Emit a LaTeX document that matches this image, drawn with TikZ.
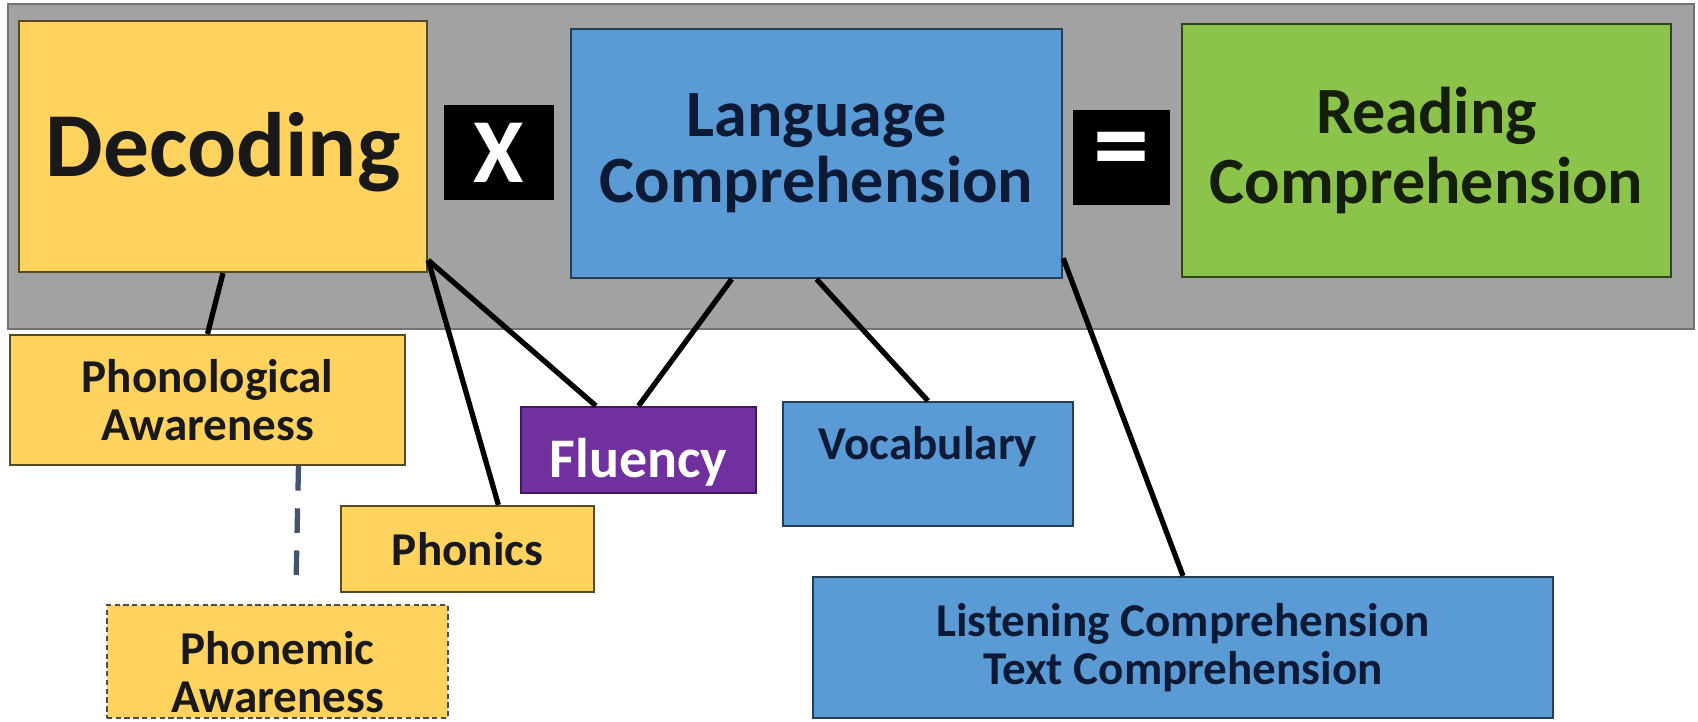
\documentclass[tikz,border=0pt]{standalone}
\usepackage{fontspec}
\setmainfont{Carlito}
\usepackage{xcolor}
\definecolor{bggray}{HTML}{A2A2A2}
\definecolor{gold}{HTML}{FFD35E}
\definecolor{skyblue}{HTML}{5B9BD5}
\definecolor{leaf}{HTML}{8CC34B}
\definecolor{grape}{HTML}{7030A0}
\definecolor{navy}{HTML}{0D1A36}
\definecolor{slate}{HTML}{44546A}

\begin{document}
\begin{tikzpicture}[x=0.01cm, y=-0.01cm]
\tikzstyle{every node}=[rectangle, inner sep=0pt, font=\bfseries]
\tikzstyle{gbox}=[draw=gold!35!black, fill=gold, text=black!90, line width=0.6pt]
\tikzstyle{bbox}=[draw=skyblue!40!black, fill=skyblue, text=navy, line width=0.6pt]
\tikzstyle{sign}=[fill=black, text=white, font=\fontsize{26}{26}\selectfont\bfseries]
\tikzstyle{small}=[font=\fontsize{13.4}{13.6}\selectfont\bfseries, align=center]
\tikzstyle{link}=[line width=1.5pt, black]

\useasboundingbox (0,0) rectangle (1698,722);
\draw[fill=bggray, draw=black!55, line width=0.6pt] (8,4) rectangle (1694,329);

% top row
\node[gbox, minimum width=4.08cm, text height=1.55cm, text depth=0.96cm,
      font=\fontsize{26}{26}\selectfont\bfseries] (dec) at (223,146.5) {Decoding};
\node[sign, minimum width=1.10cm, minimum height=0.95cm] (times) at (499,152.5) {X};
\node[bbox, minimum width=4.91cm, minimum height=2.49cm, align=center,
      font=\fontsize{18.8}{18.8}\selectfont\bfseries] (lang) at (816.5,153.5) {Language\\Comprehension};
\node[sign, minimum width=0.97cm, minimum height=0.95cm,
      font=\fontsize{32}{32}\selectfont\bfseries] (eq) at (1121.5,157.5) {=};
\node[draw=leaf!35!black, fill=leaf, text=black!85!leaf, line width=0.6pt,
      minimum width=4.89cm, minimum height=2.53cm, align=center,
      font=\fontsize{18.8}{19.9}\selectfont\bfseries] (read) at (1426.5,150.5) {Reading\\Comprehension};

% parts
\node[gbox, small, minimum width=3.95cm, minimum height=1.30cm] (phon) at (207.5,400) {Phonological\\Awareness};
\node[gbox, small, minimum width=2.53cm, minimum height=0.86cm] (pho) at (467.5,549) {Phonics};
\node[gbox, small, minimum width=3.41cm, text height=1.07cm, text depth=0.06cm, draw=black!70,
      dash pattern=on 1.5pt off 1pt] (phm) at (277.5,661.5) {Phonemic\\Awareness};
\node[draw=grape!55!black, fill=grape, text=white, line width=0.6pt,
      minimum width=2.35cm, text height=0.70cm, text depth=0.16cm,
      font=\fontsize{15.9}{16}\selectfont\bfseries] (flu) at (638.5,450) {Fluency};
\node[bbox, small, minimum width=2.90cm, text height=0.58cm, text depth=0.66cm] (voc) at (928,464) {Vocabulary};
\node[bbox, small, minimum width=7.40cm, minimum height=1.41cm] (lis) at (1183,647.5) {Listening Comprehension\\Text Comprehension};

\coordinate (dashend) at (296,585);
\foreach \i/\j in {dec.south/phon.north, dec.-29/pho.55, dec.-29/flu.134,
                   lang.-124/flu.north, lang.south/voc.north, lang.-23/lis.north}{\draw[link] (\i) -- (\j);}
\draw[slate, line width=1.5pt, dash pattern=on 7pt off 5pt] (phon.-36) -- (dashend);
\end{tikzpicture}
\end{document}
